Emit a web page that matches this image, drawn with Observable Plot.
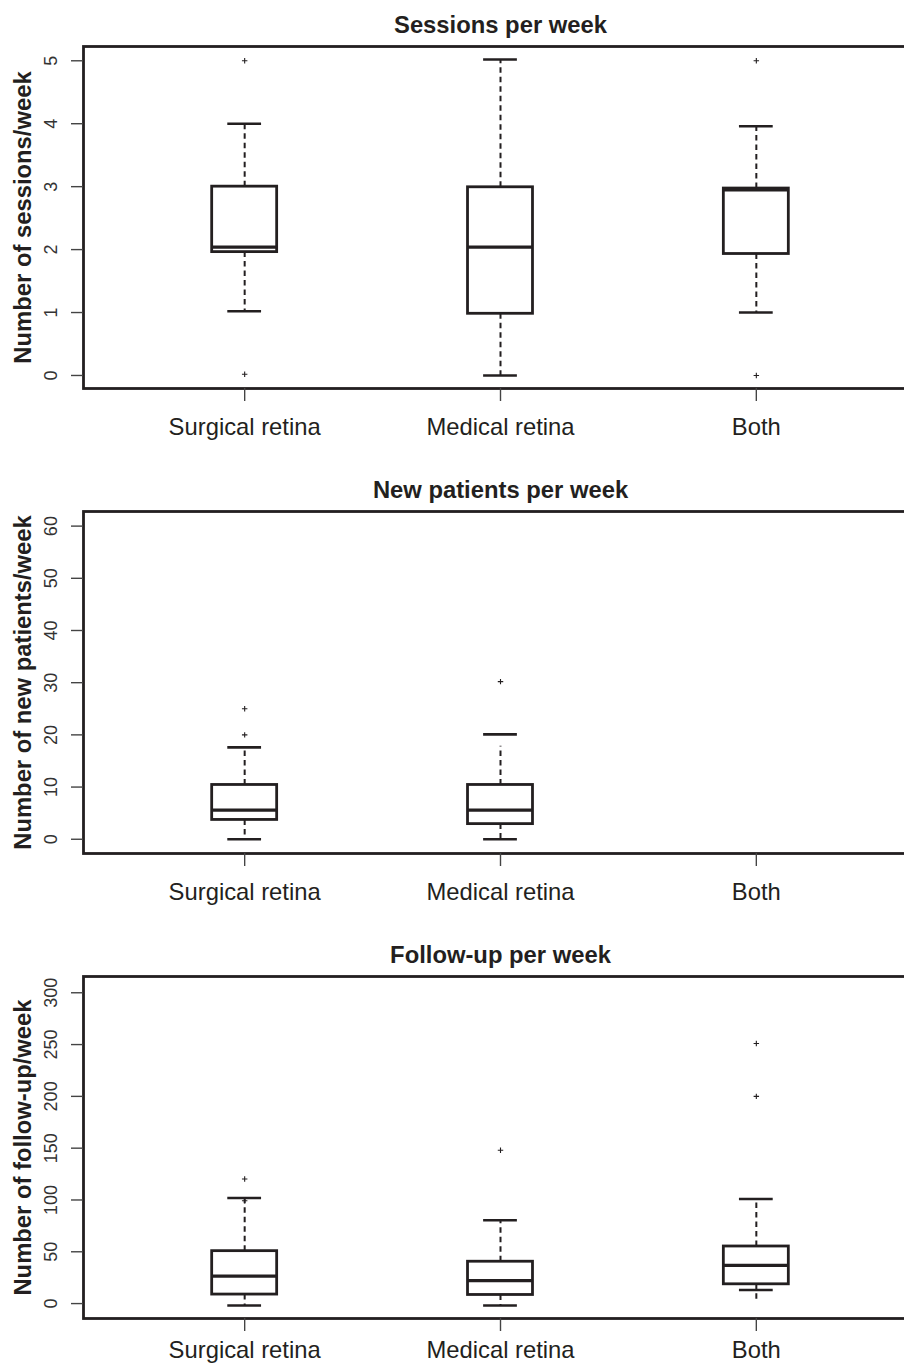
<!DOCTYPE html>
<html>
<head>
<meta charset="utf-8">
<script src="https://cdn.jsdelivr.net/npm/d3@7"></script>
<script src="https://cdn.jsdelivr.net/npm/@observablehq/plot@0.6"></script>
<style>
  html, body { margin: 0; padding: 0; background: #fff; overflow: hidden; }
  #chart svg { display: block; overflow: hidden; }
</style>
</head>
<body>
<div id="chart"></div>
<script>
// ---- Data ----
const categories = ["Surgical retina", "Medical retina", "Both"];
const positions = [1, 2, 3];

// Panel 1: Sessions per week
const sessionsQ1 = [1.96, 0.98, 1.93];
const sessionsMedian = [2.04, 2.04, 2.95];
const sessionsQ3 = [3.0, 2.99, 2.97];
const sessionsCapLow = [1.02, 0.0, 1.0];
const sessionsCapHigh = [4.0, 5.02, 3.96];
const sessionsLineLow = [1.02, 0.0, 1.0];
const sessionsLineHigh = [4.0, 5.02, 3.96];
const sessionsOutliers = [[5.0, 0.02], [], [5.0, 0.0]];
const sessionsTicks = [0, 1, 2, 3, 4, 5];

// Panel 2: New patients per week ("Both" has no box)
const newQ1 = [3.7, 2.9, null];
const newMedian = [5.6, 5.6, null];
const newQ3 = [10.4, 10.4, null];
const newCapLow = [0, 0, null];
const newCapHigh = [17.6, 20.1, null];
const newLineLow = [0, 0, null];
const newLineHigh = [17.6, 17.8, null];
const newOutliers = [[25, 20], [30.2], []];
const newTicks = [0, 10, 20, 30, 40, 50, 60];

// Panel 3: Follow-up per week
const fuQ1 = [8.7, 8.3, 18.6];
const fuMedian = [26.5, 22.1, 36.8];
const fuQ3 = [50.6, 40.4, 55.1];
const fuCapLow = [-1.9, -1.9, 13.1];
const fuCapHigh = [101.9, 80.4, 101];
const fuLineLow = [-1.9, -1.9, 4.1];
const fuLineHigh = [101.9, 80.4, 101];
const fuOutliers = [[120.2, 99.3], [148], [251, 200]];
const fuTicks = [0, 50, 100, 150, 200, 250, 300];

// ---- Style ----
const INK = "#231f20";
const FONT = "'Liberation Sans', Arial, Helvetica, sans-serif";
const BOX_HALF = 0.127;   // half box width in x units
const CAP_HALF = 0.066;   // half staple width in x units

function buildRows(q1, med, q3, capLow, capHigh, lineLow, lineHigh) {
  return categories.map((c, i) => ({
    cat: c, pos: positions[i], q1: q1[i], median: med[i], q3: q3[i],
    capLow: capLow[i], capHigh: capHigh[i], lineLow: lineLow[i], lineHigh: lineHigh[i]
  })).filter(d => d.q1 != null);
}
function buildOutliers(out) {
  return out.flatMap((vals, i) => vals.map(v => ({pos: positions[i], value: v})));
}

function panel({title, ylabel, rows, outliers, yDomain, yTicks, height, marginBottom, xPadding}) {
  return Plot.plot({
    width: 904,
    height,
    marginTop: 46,
    marginBottom,
    marginLeft: 83,
    marginRight: -13,
    style: {fontFamily: FONT, color: INK, background: "#fff", overflow: "hidden"},
    x: {domain: [0.37, 3.63], label: null},
    y: {domain: yDomain, label: null},
    marks: [
      Plot.frame({stroke: INK, strokeWidth: 2.8}),
      Plot.axisY({ticks: yTicks, tickSize: 12, stroke: "#444", strokeWidth: 1.4,
        tickFormat: () => "", label: null}),
      Plot.text(yTicks, {y: d => d, text: d => String(d), frameAnchor: "left", dx: -32,
        rotate: -90, textAnchor: "middle", lineAnchor: "middle", fontSize: 18, fill: "#333"}),
      Plot.axisX({ticks: positions, tickSize: 13, tickPadding: xPadding, fontSize: 23.8,
        stroke: "#444", strokeWidth: 1.4, fill: INK, tickFormat: p => categories[p - 1], label: null}),
      Plot.text([ylabel], {frameAnchor: "left", dx: -60, rotate: -90, textAnchor: "middle",
        lineAnchor: "middle", fontWeight: "bold", fontSize: 23.8, fill: INK}),
      Plot.text([title], {frameAnchor: "top", dy: -14, textAnchor: "middle", lineAnchor: "bottom",
        fontWeight: "bold", fontSize: 23.8, fill: INK}),
      // whiskers (dashed)
      Plot.ruleX(rows, {x: "pos", y1: "q3", y2: "lineHigh", stroke: INK, strokeWidth: 2, strokeDasharray: "5.5,4"}),
      Plot.ruleX(rows, {x: "pos", y1: "q1", y2: "lineLow", stroke: INK, strokeWidth: 2, strokeDasharray: "5.5,4"}),
      // staples
      Plot.ruleY(rows, {y: "capHigh", x1: d => d.pos - CAP_HALF, x2: d => d.pos + CAP_HALF, stroke: INK, strokeWidth: 2.6}),
      Plot.ruleY(rows, {y: "capLow", x1: d => d.pos - CAP_HALF, x2: d => d.pos + CAP_HALF, stroke: INK, strokeWidth: 2.6}),
      // boxes
      Plot.rect(rows, {x1: d => d.pos - BOX_HALF, x2: d => d.pos + BOX_HALF, y1: "q1", y2: "q3",
        fill: "#fff", stroke: INK, strokeWidth: 2.8}),
      // medians
      Plot.ruleY(rows, {y: "median", x1: d => d.pos - BOX_HALF, x2: d => d.pos + BOX_HALF, stroke: INK, strokeWidth: 3.2}),
      // outliers
      Plot.dot(outliers, {x: "pos", y: "value", symbol: "plus", r: 1.9, stroke: INK, strokeWidth: 1.1})
    ]
  });
}

const chart = document.getElementById("chart");
chart.append(panel({
  title: "Sessions per week",
  ylabel: "Number of sessions/week",
  rows: buildRows(sessionsQ1, sessionsMedian, sessionsQ3, sessionsCapLow, sessionsCapHigh, sessionsLineLow, sessionsLineHigh),
  outliers: buildOutliers(sessionsOutliers),
  yDomain: [-0.207, 5.227], yTicks: sessionsTicks, height: 465, marginBottom: 77, xPadding: 17
}));
chart.append(panel({
  title: "New patients per week",
  ylabel: "Number of new patients/week",
  rows: buildRows(newQ1, newMedian, newQ3, newCapLow, newCapHigh, newLineLow, newLineHigh),
  outliers: buildOutliers(newOutliers),
  yDomain: [-2.73, 62.8], yTicks: newTicks, height: 465, marginBottom: 77, xPadding: 17
}));
chart.append(panel({
  title: "Follow-up per week",
  ylabel: "Number of follow-up/week",
  rows: buildRows(fuQ1, fuMedian, fuQ3, fuCapLow, fuCapHigh, fuLineLow, fuLineHigh),
  outliers: buildOutliers(fuOutliers),
  yDomain: [-14.4, 315.7], yTicks: fuTicks, height: 437, marginBottom: 49, xPadding: 10
}));
</script>
</body>
</html>
